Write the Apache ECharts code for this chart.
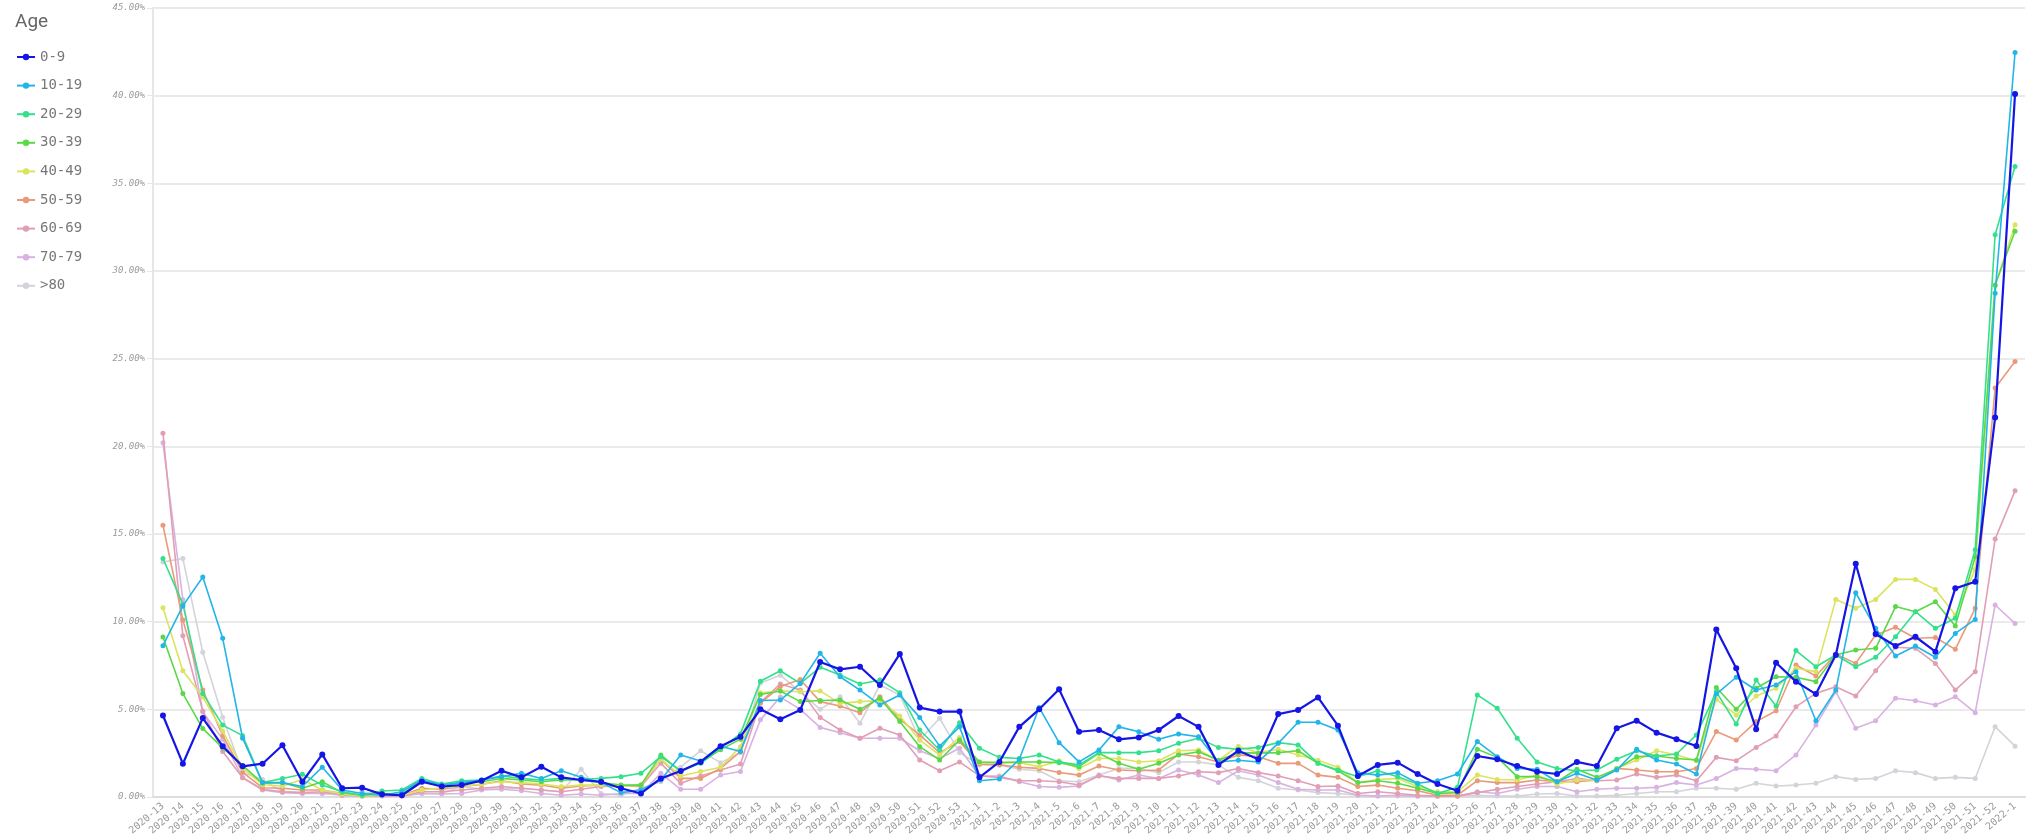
<!DOCTYPE html>
<html>
<head>
<meta charset="utf-8">
<title>Age</title>
<script src="https://cdn.jsdelivr.net/npm/echarts@6/dist/echarts.min.js"></script>
<style>
  html, body { margin: 0; padding: 0; background: #fff; }
  #chart { width: 2032px; height: 838px; }
</style>
</head>
<body>
<div id="chart"></div>
<script>
// weeks on the x axis
const weeks2020 = []
for (let w = 13; w <= 53; w++) weeks2020.push('2020-' + w)
const weeks2021 = []
for (let w = 1; w <= 52; w++) weeks2021.push('2021-' + w)
const categories = weeks2020.concat(weeks2021, ['2022-1'])

const ageGroups = ['0-9', '10-19', '20-29', '30-39', '40-49', '50-59', '60-69', '70-79', '>80']
const colors = ['#1515e6', '#22b5e8', '#33e08c', '#5bd847', '#dce35f', '#e99a7a', '#e09fb4', '#d8b2e0', '#d3d3da']

// values in percent
const age0 = [4.65, 1.9, 4.5, 2.9, 1.75, 1.9, 2.95, 0.87, 2.43, 0.5, 0.53, 0.15, 0.1, 0.87, 0.6, 0.68, 0.93, 1.5, 1.12, 1.73, 1.12, 0.97, 0.87, 0.5, 0.2, 1.06, 1.48, 2.0, 2.9, 3.44, 5.0, 4.43, 4.96, 7.7, 7.28, 7.43, 6.39, 8.16, 5.1, 4.87, 4.87, 1.12, 2.0, 4.0, 5.0, 6.14, 3.72, 3.82, 3.29, 3.4, 3.82, 4.62, 4.0, 1.83, 2.64, 2.15, 4.73, 4.96, 5.68, 4.07, 1.2, 1.83, 1.96, 1.31, 0.74, 0.36, 2.34, 2.15, 1.77, 1.44, 1.31, 2.0, 1.77, 3.92, 4.35, 3.67, 3.29, 2.91, 9.56, 7.34, 3.86, 7.66, 6.58, 5.87, 8.1, 13.3, 9.3, 8.61, 9.14, 8.29, 11.9, 12.28, 21.64, 40.1]
const age10 = [8.63, 10.9, 12.55, 9.05, 3.35, 0.82, 0.82, 0.6, 1.7, 0.4, 0.2, 0.1, 0.3, 0.97, 0.68, 0.82, 0.97, 1.16, 1.35, 1.06, 1.5, 1.12, 0.82, 0.25, 0.4, 0.97, 2.4, 2.05, 2.9, 2.6, 5.5, 5.53, 6.48, 8.2, 6.86, 6.1, 5.25, 5.82, 4.54, 2.9, 4.0, 0.93, 1.03, 2.15, 5.1, 3.1, 2.0, 2.68, 4.0, 3.72, 3.29, 3.6, 3.44, 2.0, 2.1, 2.0, 3.06, 4.26, 4.26, 3.82, 1.39, 1.25, 1.39, 0.78, 0.93, 1.31, 3.16, 2.3, 1.63, 1.58, 0.87, 1.35, 0.97, 1.54, 2.72, 2.11, 1.88, 1.31, 5.87, 6.83, 6.1, 6.39, 7.15, 4.35, 6.1, 11.65, 9.62, 8.04, 8.61, 7.97, 9.33, 10.13, 28.73, 42.46]
const age20 = [13.6, 11.0, 5.9, 4.1, 3.5, 0.82, 1.06, 1.3, 0.68, 0.3, 0.1, 0.34, 0.4, 1.06, 0.74, 0.93, 0.97, 1.2, 1.06, 0.97, 1.06, 1.0, 1.06, 1.16, 1.35, 2.3, 1.5, 1.92, 2.78, 3.6, 6.6, 7.2, 6.48, 7.4, 6.96, 6.44, 6.67, 5.95, 3.82, 2.68, 4.24, 2.78, 2.26, 2.2, 2.4, 2.0, 1.83, 2.53, 2.53, 2.53, 2.64, 3.06, 3.35, 2.83, 2.72, 2.83, 3.1, 2.97, 1.92, 1.54, 1.16, 1.5, 1.16, 0.74, 0.2, 0.55, 5.82, 5.06, 3.35, 2.0, 1.63, 1.5, 1.54, 2.15, 2.64, 2.34, 2.45, 3.54, 6.0, 4.16, 6.67, 5.19, 8.35, 7.43, 8.1, 7.43, 7.97, 9.14, 10.57, 9.62, 10.19, 14.1, 32.07, 35.96]
const age30 = [9.13, 5.9, 3.9, 2.8, 1.8, 0.78, 0.82, 0.5, 0.87, 0.25, 0.1, 0.2, 0.15, 0.93, 0.68, 0.82, 0.87, 1.06, 0.97, 0.87, 0.97, 0.97, 0.82, 0.68, 0.68, 2.4, 1.45, 1.96, 2.7, 3.3, 5.85, 6.05, 5.44, 5.5, 5.53, 5.0, 5.63, 4.3, 2.87, 2.11, 3.25, 2.0, 1.96, 2.0, 2.0, 1.96, 1.73, 2.5, 1.92, 1.58, 1.92, 2.4, 2.58, 2.1, 2.53, 2.5, 2.53, 2.64, 1.92, 1.5, 0.82, 0.93, 0.78, 0.5, 0.2, 0.25, 2.72, 2.26, 1.16, 1.16, 0.87, 1.58, 1.12, 1.6, 2.3, 2.34, 2.2, 2.11, 6.25, 5.0, 6.2, 6.86, 6.83, 6.58, 8.1, 8.38, 8.48, 10.86, 10.57, 11.14, 9.75, 13.7, 29.2, 32.27]
const age40 = [10.8, 7.2, 5.7, 3.75, 1.65, 0.7, 0.63, 1.0, 0.4, 0.17, 0.05, 0.1, 0.1, 0.4, 0.53, 0.6, 0.74, 0.87, 0.82, 0.74, 0.6, 0.68, 0.68, 0.6, 0.68, 2.15, 1.2, 1.45, 1.7, 2.87, 5.95, 6.05, 6.0, 6.05, 5.34, 5.44, 5.5, 4.62, 3.25, 2.4, 3.4, 1.96, 1.96, 1.96, 1.73, 2.07, 1.63, 2.2, 2.2, 2.0, 2.07, 2.64, 2.68, 2.1, 2.9, 2.53, 2.72, 2.4, 2.1, 1.7, 0.82, 1.0, 1.06, 0.6, 0.3, 0.3, 1.25, 1.0, 0.97, 1.25, 0.74, 0.97, 0.97, 1.63, 2.11, 2.64, 2.4, 2.07, 5.57, 4.68, 5.76, 6.2, 7.34, 7.15, 11.27, 10.76, 11.27, 12.41, 12.41, 11.84, 10.38, 12.98, 29.18, 32.64]
const age50 = [15.5, 10.1, 6.1, 3.5, 1.4, 0.53, 0.5, 0.4, 0.4, 0.2, 0.05, 0.1, 0.1, 0.5, 0.44, 0.6, 0.72, 0.93, 0.74, 0.68, 0.5, 0.63, 0.68, 0.63, 0.68, 2.15, 1.06, 1.06, 1.63, 2.6, 5.35, 6.3, 6.7, 5.44, 5.19, 4.81, 5.72, 4.43, 3.54, 2.53, 3.16, 1.88, 1.83, 1.7, 1.63, 1.4, 1.25, 1.77, 1.54, 1.5, 1.54, 2.45, 2.3, 2.0, 2.4, 2.3, 1.92, 1.92, 1.25, 1.12, 0.6, 0.68, 0.5, 0.36, 0.1, 0.1, 0.93, 0.82, 0.82, 0.97, 0.87, 0.87, 0.97, 1.63, 1.54, 1.44, 1.44, 1.63, 3.73, 3.25, 4.3, 4.92, 7.53, 6.9, 8.16, 7.62, 9.24, 9.68, 9.05, 9.1, 8.42, 10.76, 23.33, 24.84]
const age60 = [20.75, 9.2, 4.9, 2.6, 1.1, 0.44, 0.3, 0.25, 0.3, 0.1, 0.05, 0.05, 0.05, 0.3, 0.3, 0.4, 0.5, 0.6, 0.5, 0.4, 0.3, 0.44, 0.6, 0.63, 0.6, 1.92, 0.78, 1.2, 1.54, 1.88, 5.4, 6.45, 6.1, 4.54, 3.82, 3.35, 3.92, 3.54, 2.11, 1.5, 2.0, 1.2, 1.12, 0.93, 0.93, 0.87, 0.68, 1.2, 1.06, 1.06, 1.06, 1.2, 1.44, 1.39, 1.63, 1.39, 1.2, 0.93, 0.6, 0.63, 0.2, 0.3, 0.2, 0.1, 0.05, 0.05, 0.25, 0.44, 0.6, 0.74, 0.87, 1.06, 0.93, 0.97, 1.31, 1.12, 1.25, 0.93, 2.26, 2.07, 2.83, 3.48, 5.15, 5.91, 6.29, 5.76, 7.2, 8.54, 8.48, 7.62, 6.1, 7.15, 14.71, 17.46]
const age70 = [20.2, 11.25, 4.85, 3.3, 1.1, 0.4, 0.25, 0.2, 0.2, 0.2, 0.1, 0.1, 0.05, 0.2, 0.17, 0.2, 0.4, 0.44, 0.36, 0.2, 0.1, 0.17, 0.1, 0.2, 0.2, 1.35, 0.44, 0.44, 1.25, 1.45, 4.4, 5.7, 5.0, 3.97, 3.67, 3.35, 3.35, 3.35, 2.64, 2.2, 2.78, 1.2, 1.2, 0.87, 0.6, 0.55, 0.63, 1.25, 0.97, 1.25, 1.06, 1.54, 1.25, 0.82, 1.5, 1.25, 0.82, 0.44, 0.4, 0.4, 0.1, 0.05, 0.1, 0.05, 0.05, 0.05, 0.3, 0.2, 0.44, 0.6, 0.6, 0.3, 0.44, 0.5, 0.5, 0.55, 0.82, 0.68, 1.06, 1.63, 1.58, 1.5, 2.4, 4.1, 6.0, 3.92, 4.35, 5.63, 5.49, 5.25, 5.72, 4.81, 10.95, 9.9]
const age80 = [13.4, 13.6, 8.25, 4.55, 1.4, 1.0, 0.3, 0.25, 0.2, 0.1, 0.3, 0.1, 0.1, 0.2, 0.2, 0.6, 0.44, 0.5, 0.5, 0.4, 0.3, 1.58, 0.2, 0.1, 0.5, 0.87, 1.7, 2.64, 1.96, 2.53, 6.5, 6.95, 6.0, 5.0, 5.72, 4.2, 6.39, 5.82, 3.25, 4.49, 2.53, 1.83, 1.83, 1.58, 1.5, 0.93, 0.87, 1.25, 1.63, 1.63, 1.39, 2.0, 2.0, 1.83, 1.12, 0.93, 0.5, 0.4, 0.25, 0.2, 0.1, 0.05, 0.05, 0.03, 0.03, 0.03, 0.1, 0.05, 0.05, 0.17, 0.2, 0.05, 0.05, 0.1, 0.2, 0.3, 0.3, 0.5, 0.5, 0.44, 0.78, 0.63, 0.68, 0.78, 1.16, 1.0, 1.06, 1.5, 1.39, 1.06, 1.12, 1.06, 4.01, 2.9]

const values = [age0, age10, age20, age30, age40, age50, age60, age70, age80]

const mono = 'DejaVu Sans Mono'

let chart = echarts.init(document.getElementById('chart'), null, { renderer: 'canvas' })

let series = ageGroups.map((name, i) => ({
  name: name,
  type: 'line',
  data: values[i],
  symbol: 'circle',
  symbolSize: i == 0 ? 6 : 5,
  showSymbol: true,
  z: 20 - i,
  lineStyle: { width: i == 0 ? 2.2 : 1.6, color: colors[i] },
  itemStyle: { color: colors[i] },
}))

chart.setOption({
  animation: false,
  backgroundColor: '#fff',
  title: {
    text: 'Age',
    left: 10,
    top: 8,
    textStyle: { fontSize: 19, fontWeight: 'normal', color: '#666', fontFamily: 'Roboto' },
  },
  legend: {
    orient: 'vertical',
    left: 11,
    top: 45,
    itemWidth: 18,
    itemHeight: 8,
    itemGap: 14.6,
    data: ageGroups,
    textStyle: { fontSize: 14, color: '#777', fontFamily: mono },
  },
  grid: {
    left: 153,
    right: 7,
    top: 8,
    bottom: 41,
  },
  xAxis: {
    type: 'category',
    data: categories,
    boundaryGap: true,
    axisLine: { lineStyle: { color: '#ddd', width: 2 } },
    axisTick: { show: false },
    axisLabel: {
      interval: 0,
      rotate: 40,
      fontSize: 10,
      color: '#999',
      fontFamily: mono,
      margin: 8,
    },
  },
  yAxis: {
    type: 'value',
    min: 0,
    max: 45,
    interval: 5,
    axisLine: { show: true, lineStyle: { color: '#e6e6e6', width: 2 } },
    axisTick: { show: true, length: 6, lineStyle: { color: '#e6e6e6' } },
    splitLine: { lineStyle: { color: '#e3e3e3', width: 1.5 } },
    axisLabel: {
      formatter: v => v.toFixed(2) + '%',
      fontSize: 9,
      fontStyle: 'italic',
      color: '#999',
      fontFamily: mono,
      margin: 8,
    },
  },
  series: series,
})
</script>
</body>
</html>
